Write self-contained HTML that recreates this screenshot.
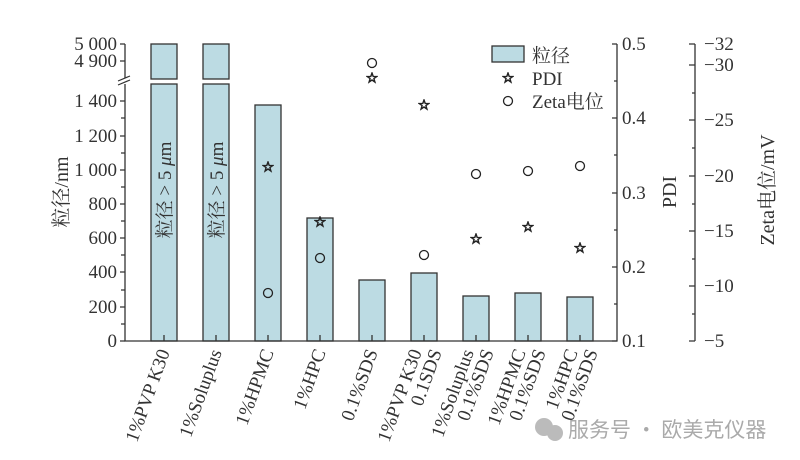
<!DOCTYPE html>
<html><head><meta charset="utf-8"><style>
body{margin:0;background:#fff}
svg{display:block}
text{font-family:"Liberation Serif","Noto Serif CJK SC",serif;fill:#333}
</style></head><body>
<svg width="800" height="460" viewBox="0 0 800 460" xmlns="http://www.w3.org/2000/svg">
<defs>
<symbol id="st" viewBox="-6 -6 12 12"><polygon points="0,-5 1.2,-1.6 4.8,-1.5 1.9,0.6 2.9,4 0,2 -2.9,4 -1.9,0.6 -4.8,-1.5 -1.2,-1.6" fill="none" stroke="#222" stroke-width="1.4"/></symbol>
</defs>
<g stroke="#333" stroke-width="1.3" fill="#bcdbe3">
<rect x="151" y="44" width="26" height="35"/><rect x="151" y="84" width="26" height="257"/>
<rect x="203" y="44" width="26" height="35"/><rect x="203" y="84" width="26" height="257"/>
<rect x="255" y="105" width="26" height="236"/>
<rect x="307" y="218" width="26" height="123"/>
<rect x="359" y="280" width="26" height="61"/>
<rect x="411" y="273" width="26" height="68"/>
<rect x="463" y="296" width="26" height="45"/>
<rect x="515" y="293" width="26" height="48"/>
<rect x="567" y="297" width="26" height="44"/>
</g>
<g stroke="#333" stroke-width="1.3" fill="none">
<path d="M125 44V78M125 84V341H617V44"/>
<path d="M120 44H125M120 61H125M120 101H125M120 136H125M120 170H125M120 204H125M120 238H125M120 272H125M120 307H125M120 341H125"/>
<path d="M121 118H125M121 153H125M121 187H125M121 221H125M121 255H125M121 290H125M121 324H125"/>
<path d="M118 81L130 76M118 85L130 80" stroke-width="1.2"/>
<path d="M164 341v-6M216 341v-6M268 341v-6M320 341v-6M372 341v-6M424 341v-6M476 341v-6M528 341v-6M580 341v-6"/>
<path d="M617 44h-5M617 118h-5M617 193h-5M617 267h-5M617 341h-5M617 81h-3M617 155h-3M617 230h-3M617 304h-3"/>
<path d="M695 44V341M695 44h-6M695 65h-6M695 120h-6M695 176h-6M695 231h-6M695 286h-6M695 341h-6M695 93h-3M695 148h-3M695 204h-3M695 259h-3M695 314h-3"/>
</g>
<g font-size="19" text-anchor="end">
<text x="117" y="50">5 000</text><text x="117" y="67">4 900</text>
<text x="117" y="107">1 400</text><text x="117" y="142">1 200</text><text x="117" y="176">1 000</text>
<text x="117" y="210">800</text><text x="117" y="244">600</text><text x="117" y="278">400</text>
<text x="117" y="313">200</text><text x="117" y="347">0</text>
</g>
<g font-size="19">
<text x="622" y="50">0.5</text><text x="622" y="124">0.4</text><text x="622" y="199">0.3</text><text x="622" y="273">0.2</text><text x="622" y="347">0.1</text>
<text x="704" y="50">−32</text><text x="704" y="71">−30</text><text x="704" y="126">−25</text><text x="704" y="182">−20</text><text x="704" y="237">−15</text><text x="704" y="292">−10</text><text x="704" y="347">−5</text>
</g>
<text transform="translate(68 192) rotate(-90)" font-size="20" text-anchor="middle">粒径/nm</text>
<text transform="translate(676 192) rotate(-90)" font-size="20" text-anchor="middle">PDI</text>
<text transform="translate(774 190) rotate(-90)" font-size="20" text-anchor="middle">Zeta电位/mV</text>
<text transform="translate(171 190) rotate(-90)" font-size="19" text-anchor="middle">粒径 &gt; 5 <tspan font-style="italic">μ</tspan>m</text>
<text transform="translate(223 190) rotate(-90)" font-size="19" text-anchor="middle">粒径 &gt; 5 <tspan font-style="italic">μ</tspan>m</text>
<g>
<use href="#st" x="262" y="161" width="12" height="12"/>
<use href="#st" x="314" y="216" width="12" height="12"/>
<use href="#st" x="366" y="72" width="12" height="12"/>
<use href="#st" x="418" y="99" width="12" height="12"/>
<use href="#st" x="470" y="233" width="12" height="12"/>
<use href="#st" x="522" y="221" width="12" height="12"/>
<use href="#st" x="574" y="242" width="12" height="12"/>
<use href="#st" x="502" y="72" width="12" height="12"/>
</g>
<g fill="none" stroke="#222" stroke-width="1.3">
<circle cx="268" cy="293" r="4.5"/><circle cx="320" cy="258" r="4.5"/><circle cx="372" cy="63" r="4.5"/>
<circle cx="424" cy="255" r="4.5"/><circle cx="476" cy="174" r="4.5"/><circle cx="528" cy="171" r="4.5"/>
<circle cx="580" cy="166" r="4.5"/><circle cx="508" cy="101" r="4.5"/>
</g>
<rect x="492" y="46" width="32" height="16" fill="#bcdbe3" stroke="#333" stroke-width="1.3"/>
<g font-size="19"><text x="532" y="62">粒径</text><text x="532" y="85">PDI</text><text x="532" y="108">Zeta电位</text></g>
<g font-size="19" text-anchor="end">
<text transform="translate(170 352) rotate(-70)">1%PVP K30</text>
<text transform="translate(222 352) rotate(-70)">1%Soluplus</text>
<text transform="translate(274 352) rotate(-70)">1%HPMC</text>
<text transform="translate(326 352) rotate(-70)">1%HPC</text>
<text transform="translate(378 352) rotate(-70)">0.1%SDS</text>
<text transform="translate(422 352) rotate(-70)">1%PVP K30</text><text transform="translate(442 352) rotate(-70)">0.1SDS</text>
<text transform="translate(474 352) rotate(-70)">1%Soluplus</text><text transform="translate(494 352) rotate(-70)">0.1%SDS</text>
<text transform="translate(526 352) rotate(-70)">1%HPMC</text><text transform="translate(546 352) rotate(-70)">0.1%SDS</text>
<text transform="translate(578 352) rotate(-70)">1%HPC</text><text transform="translate(598 352) rotate(-70)">0.1%SDS</text>
</g>
<g fill="#bbb"><circle cx="544" cy="427" r="9"/><circle cx="555" cy="433" r="8"/></g>
<text x="568" y="437" font-size="21" style="fill:#aaa;font-family:'Noto Sans CJK SC',sans-serif">服务号 · 欧美克仪器</text>
</svg>
</body></html>
